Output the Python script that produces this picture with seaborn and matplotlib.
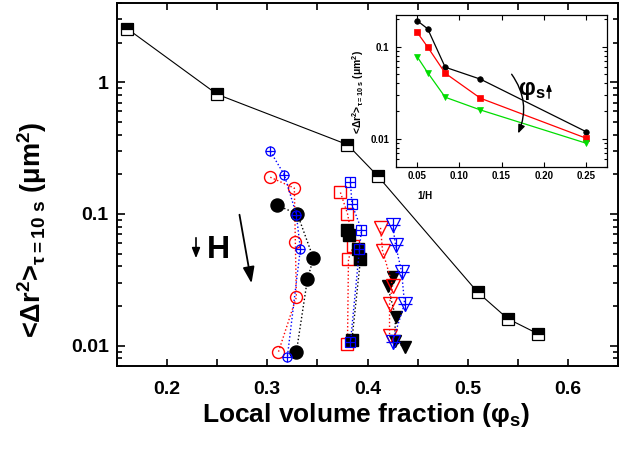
import matplotlib
matplotlib.use('Agg')
import matplotlib.pyplot as plt
import seaborn as sns
from matplotlib.patches import FancyArrowPatch
from matplotlib.ticker import FixedLocator, MultipleLocator, LogLocator, NullFormatter, FuncFormatter

# ---------------- data ----------------
# main curve (half-filled squares)
main_phi = [0.16, 0.25, 0.38, 0.41, 0.51, 0.54, 0.57]
main_msd = [2.56, 0.81, 0.336, 0.195, 0.0254, 0.016, 0.0123]

# circle group
circ_red_x = [0.303, 0.327, 0.328, 0.329, 0.311]
circ_red_y = [0.190, 0.157, 0.061, 0.0233, 0.0089]
circ_blue_x = [0.303, 0.317, 0.329, 0.333, 0.320]
circ_blue_y = [0.299, 0.198, 0.0989, 0.0543, 0.0082]
circ_black_x = [0.310, 0.330, 0.346, 0.340, 0.329]
circ_black_y = [0.116, 0.100, 0.0461, 0.0318, 0.0089]

# square group
sq_red_x = [0.373, 0.380, 0.386, 0.381, 0.380]
sq_red_y = [0.1455, 0.1007, 0.0575, 0.0455, 0.0102]
sq_blue_x = [0.383, 0.3845, 0.394, 0.392, 0.383]
sq_blue_y = [0.174, 0.118, 0.076, 0.0546, 0.0106]
sq_black_x = [0.380, 0.382, 0.391, 0.393, 0.3845]
sq_black_y = [0.0755, 0.0686, 0.0546, 0.0455, 0.0111]

# triangle group
tri_red_x = [0.413, 0.415, 0.425, 0.422, 0.422]
tri_red_y = [0.0784, 0.0527, 0.0286, 0.0208, 0.0119]
tri_blue_x = [0.425, 0.428, 0.434, 0.437, 0.425]
tri_blue_y = [0.0831, 0.0582, 0.0365, 0.0208, 0.0107]
tri_black_x = [0.425, 0.420, 0.428, 0.427, 0.437]
tri_black_y = [0.033, 0.0285, 0.0166, 0.0108, 0.0097]

# inset
inset_invH = [0.05, 0.0625, 0.0833, 0.125, 0.25]
inset_black = [0.191, 0.156, 0.0598, 0.0444, 0.012]
inset_red = [0.143, 0.099, 0.0515, 0.0276, 0.0102]
inset_green = [0.078, 0.0523, 0.0283, 0.0206, 0.009]

main_xticks = [0.2, 0.3, 0.4, 0.5, 0.6]
main_yticks = [0.01, 0.1, 1]
inset_xticks = [0.05, 0.10, 0.15, 0.20, 0.25]
inset_yticks = [0.01, 0.1]

RED = '#ff0000'
BLUE = '#0000ff'
GREEN = '#00dd00'

# ---------------- style ----------------
sns.set_theme(style='ticks')
plt.rcParams['font.family'] = ['Liberation Sans', 'DejaVu Sans']
plt.rcParams['font.weight'] = 'bold'
plt.rcParams['text.color'] = 'black'
plt.rcParams['axes.labelcolor'] = 'black'
plt.rcParams['mathtext.fontset'] = 'custom'
for k in ['rm', 'it', 'bf', 'sf']:
    plt.rcParams['mathtext.' + k] = 'Liberation Sans:bold'

W, H = 623, 457
fig = plt.figure(figsize=(W / 100, H / 100), dpi=100)


def P(x, y):
    return (x / W, 1 - y / H)


ax = fig.add_axes([117 / W, 1 - 366 / H, (618 - 117) / W, (366 - 3) / H])
ax.set_yscale('log')
ax.set_xlim(0.15, 0.65)
ax.set_ylim(0.007, 4.0)


def draw(a, x, y, color, marker, ms, mfc='none', ls=':', lw=1.0, mew=1.0, z=3, **kw):
    sns.lineplot(x=x, y=y, ax=a, estimator=None, sort=False, errorbar=None,
                 color=color, marker=marker, markersize=ms, markerfacecolor=mfc,
                 markeredgecolor=color, markeredgewidth=mew, linestyle=ls,
                 linewidth=lw, zorder=z, **kw)


# main curve
draw(ax, main_phi, main_msd, 'black', 's', 8, mfc='black', ls='-', lw=0.8, mew=0.9, z=2,
     fillstyle='top', markerfacecoloralt='white')

# circles
draw(ax, circ_red_x, circ_red_y, RED, 'o', 8.6, ls=':', z=3)
draw(ax, circ_black_x, circ_black_y, 'black', 'o', 9.4, mfc='black', ls=':', z=4)
draw(ax, circ_blue_x, circ_blue_y, BLUE, 'o', 6.5, ls=':', mew=0.9, z=5)
draw(ax, circ_blue_x, circ_blue_y, BLUE, '+', 6.5, ls='none', mew=0.9, z=5)

# squares
draw(ax, sq_red_x, sq_red_y, RED, 's', 8, ls=':', z=3)
draw(ax, sq_black_x, sq_black_y, 'black', 's', 8.3, mfc='black', ls=':', z=4)
draw(ax, sq_blue_x, sq_blue_y, BLUE, 's', 7.8, ls=':', mew=0.9, z=5)
draw(ax, sq_blue_x, sq_blue_y, BLUE, '+', 7.8, ls='none', mew=0.9, z=5)

# triangles
draw(ax, tri_black_x, tri_black_y, 'black', 'v', 8.6, mfc='black', ls=':', z=3)
draw(ax, tri_red_x, tri_red_y, RED, 'v', 10, ls=':', z=4)
draw(ax, tri_blue_x, tri_blue_y, BLUE, 'v', 9.4, ls=':', mew=0.9, z=5)
draw(ax, tri_blue_x, tri_blue_y, BLUE, '+', 9.4, ls='none', mew=0.9, z=5)

# axes styling
ax.xaxis.set_major_locator(FixedLocator(main_xticks))
ax.xaxis.set_minor_locator(MultipleLocator(0.05))
ax.xaxis.set_major_formatter(FuncFormatter(lambda v, p: f'{v:.1f}'))
ax.yaxis.set_major_locator(FixedLocator(main_yticks))
ax.yaxis.set_minor_locator(LogLocator(base=10, subs=range(2, 10), numticks=20))
ax.yaxis.set_major_formatter(FuncFormatter(lambda v, p: f'{v:g}'))
ax.yaxis.set_minor_formatter(NullFormatter())
ax.tick_params(which='both', direction='in', top=True, right=True, width=1.2,
               labelsize=14, colors='black')
ax.tick_params(axis='x', which='both', length=5, pad=11)
ax.tick_params(axis='y', which='major', length=6, pad=6)
ax.tick_params(axis='y', which='minor', length=3.5)
for s in ax.spines.values():
    s.set_linewidth(1.4)
    s.set_color('black')
ax.set_xlabel('')
ax.set_ylabel('')

fig.text(*P(366, 422), 'Local volume fraction (φ$_s$)', ha='center', va='baseline',
         fontsize=19, fontweight='bold', color='black')
fig.text(*P(32, 230), '<Δr$^2$>$_{τ=10\\ s}$ (μm$^2$)', ha='center', va='center',
         rotation=90, fontsize=19.5, fontweight='bold', color='black')

# H annotation
fig.add_artist(FancyArrowPatch(P(196, 235), P(196, 261), transform=fig.transFigure,
                               arrowstyle='-|>,head_length=0.5,head_width=0.2',
                               mutation_scale=12, lw=1.2, color='black'))
fig.text(*P(218, 250), 'H', ha='center', va='center', fontsize=23, fontweight='bold',
         color='black')
fig.add_artist(FancyArrowPatch(P(239, 212), P(252, 286), transform=fig.transFigure,
                               arrowstyle='-|>,head_length=0.7,head_width=0.25',
                               mutation_scale=14, lw=1.3, color='black'))

# ---------------- inset ----------------
axi = fig.add_axes([396 / W, 1 - 166.7 / H, (607 - 396) / W, (166.7 - 15) / H])
axi.set_yscale('log')
axi.set_xlim(0.025, 0.275)
axi.set_ylim(0.005, 0.22)
draw(axi, inset_invH, inset_black, 'black', 'o', 4, mfc='black', ls='-', lw=0.9, mew=0.5)
draw(axi, inset_invH, inset_red, RED, 's', 3.8, mfc=RED, ls='-', lw=0.9, mew=0.5)
draw(axi, inset_invH, inset_green, GREEN, 'v', 4.5, mfc=GREEN, ls='-', lw=0.9, mew=0.5)

axi.xaxis.set_major_locator(FixedLocator(inset_xticks))
axi.xaxis.set_major_formatter(FuncFormatter(lambda v, p: f'{v:.2f}'))
axi.yaxis.set_major_locator(FixedLocator(inset_yticks))
axi.yaxis.set_minor_locator(LogLocator(base=10, subs=range(2, 10), numticks=20))
axi.yaxis.set_major_formatter(FuncFormatter(lambda v, p: f'{v:g}'))
axi.yaxis.set_minor_formatter(NullFormatter())
axi.tick_params(which='both', direction='in', top=True, right=True, width=0.8,
                labelsize=7, colors='black')
axi.tick_params(which='major', length=3.5)
axi.tick_params(which='minor', length=2)
axi.tick_params(axis='x', pad=3)
axi.tick_params(axis='y', pad=5)
for s in axi.spines.values():
    s.set_linewidth(0.9)
    s.set_color('black')
axi.set_xlabel('')
axi.set_ylabel('')
fig.text(*P(425, 196), '1/H', ha='center', va='center', fontsize=7, fontweight='bold',
         color='black')
fig.text(*P(358, 92), '<Δr$^2$>$_{τ=10\\ s}$ (μm$^2$)', ha='center', va='center',
         rotation=90, fontsize=7.5, fontweight='bold', color='black')

fig.add_artist(FancyArrowPatch(P(510, 72), P(517, 136), transform=fig.transFigure,
                               connectionstyle='arc3,rad=-0.3',
                               arrowstyle='-|>,head_length=0.5,head_width=0.2',
                               mutation_scale=10, lw=1.0, color='black'))
fig.text(*P(532, 91), 'φ$_s$', ha='center', va='center', fontsize=17, fontweight='bold',
         color='black')
fig.add_artist(FancyArrowPatch(P(549, 101), P(549, 81), transform=fig.transFigure,
                               arrowstyle='-|>,head_length=0.4,head_width=0.15',
                               mutation_scale=10, lw=1.0, color='black'))

fig.savefig('out.png', dpi=100)
